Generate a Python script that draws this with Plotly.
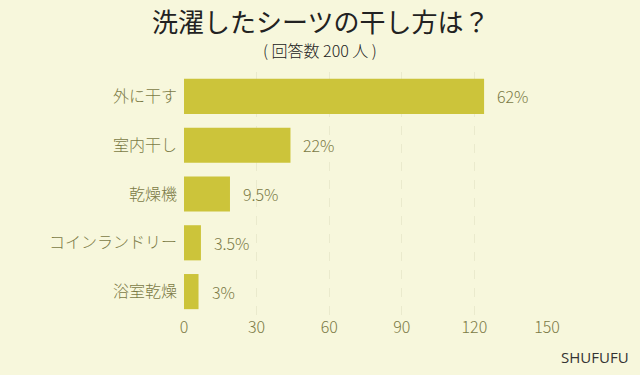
import plotly.graph_objects as go

categories = ["外に干す", "室内干し", "乾燥機", "コインランドリー", "浴室乾燥"]
counts = [124, 44, 19, 7, 6]
labels = ["62%", "22%", "9.5%", "3.5%", "3%"]
tick_vals = [0, 30, 60, 90, 120, 150]

BG = "#F7F7DC"
BAR = "#CCC43A"
TXT = "#7B7A45"
JP = "Noto Sans CJK JP"

fig = go.Figure()
fig.add_trace(go.Bar(
    y=categories, x=counts, orientation="h",
    marker=dict(color=BAR, line=dict(width=0)),
    hoverinfo="skip",
))

for c, v, t in zip(categories, counts, labels):
    fig.add_annotation(x=v, y=c, text=t, showarrow=False, xanchor="left",
                       xshift=11, font=dict(family=JP, size=16, color=TXT, weight=300))

fig.update_layout(
    width=640, height=375,
    paper_bgcolor=BG, plot_bgcolor=BG,
    margin=dict(l=184, r=93, t=72, b=59),
    bargap=0.28,
    showlegend=False,
    font=dict(family=JP, color=TXT),
    xaxis=dict(range=[0, 150], tickvals=tick_vals, showgrid=True,
               gridcolor="#EAEACD", griddash="dash", gridwidth=1,
               zeroline=False, showline=False,
               tickfont=dict(family=JP, size=16, color=TXT, weight=300), ticks=""),
    yaxis=dict(categoryorder="array", categoryarray=categories[::-1],
               showgrid=False, zeroline=False, showline=False, ticks="",
               ticklabelstandoff=6,
               tickfont=dict(family=JP, size=16, color=TXT, weight=300)),
)

plot_h = 375 - 72 - 59
plot_w = 640 - 184 - 93
cx = (320 - 184) / plot_w
fig.add_annotation(text="洗濯したシーツの干し方は？", xref="paper", yref="paper",
                   x=cx, y=1 + (72 - 21) / plot_h, showarrow=False,
                   xanchor="center", yanchor="middle",
                   font=dict(family=JP, size=26, color="#222222", weight=400))
fig.add_annotation(text="(&nbsp;回答数&nbsp;200&nbsp;人&nbsp;)", xref="paper", yref="paper",
                   x=cx, y=1 + (72 - 50) / plot_h, showarrow=False,
                   xanchor="center", yanchor="middle",
                   font=dict(family=JP, size=16, color="#222222", weight=300))
fig.add_annotation(text="SHUFUFU", xref="paper", yref="paper",
                   x=(631 - 184) / plot_w, y=-(357 - 316) / plot_h, showarrow=False,
                   xanchor="right", yanchor="middle",
                   font=dict(family="Open Sans", size=15, color="#333333"))

fig.write_html("out.html", config={"displayModeBar": False},
               post_script="document.body.style.margin='0';")
